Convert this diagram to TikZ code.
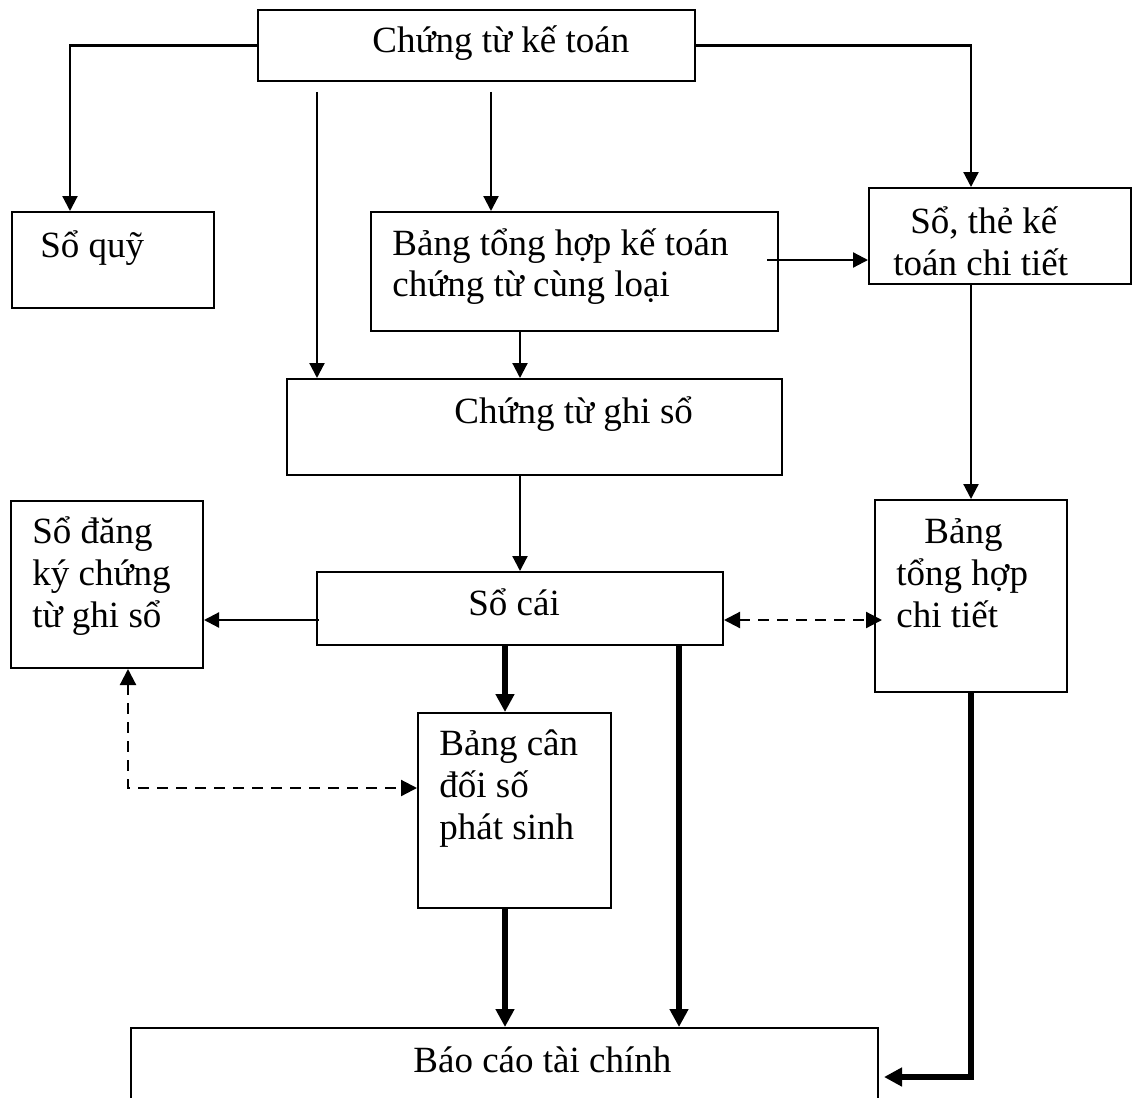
\documentclass[tikz,border=0pt]{standalone}
\usepackage{fontspec}
\setmainfont{Liberation Serif}
\usetikzlibrary{arrows.meta,calc,fit}

% box given by its two corners (pixel-like units, y grows downward)
\newcommand\flowbox[5]{\node[box, fit={(#2,#3) (#4,#5)}] (#1) {};}

\begin{document}
\begin{tikzpicture}[x=0.5pt,y=-0.5pt,
  box/.style={draw, line width=1pt, inner sep=0pt, rectangle},
  txt/.style={anchor=base west, inner sep=0pt, font=\fontsize{18.5pt}{21pt}\selectfont},
  arr/.style={line width=1.1pt, -{Triangle[length=7.5pt,width=7.5pt]}},
  heavy/.style={line width=3pt, -{Triangle[length=9pt,width=9pt]}},
  dasharr/.style={line width=1.1pt, dash pattern=on 5.5pt off 4pt,
    {Triangle[length=8pt,width=8pt]}-{Triangle[length=8pt,width=8pt]}}
]
\useasboundingbox (0,0) rectangle (1133,1097);
\fill[white] (0,0) rectangle (1133,1097);
\clip (0,0) rectangle (1133,1097);

% boxes
\flowbox{A}{258}{10}{695}{81}
\flowbox{Q}{12}{212}{214}{308}
\flowbox{B}{371}{212}{778}{331}
\flowbox{S}{869}{188}{1131}{284}
\flowbox{G}{287}{379}{782}{475}
\flowbox{D}{11}{501}{203}{668}
\flowbox{C}{317}{572}{723}{645}
\flowbox{T}{875}{500}{1067}{692}
\flowbox{K}{418}{713}{611}{908}
\flowbox{F}{131}{1028}{878}{1126}

% texts
\node[txt] (A-t) at (372,53) {Chứng từ kế toán};
\node[txt] (Q-t) at (40,257) {Sổ quỹ};
\node[txt] (B-t1) at (392,255) {Bảng tổng hợp kế toán};
\node[txt] (B-t2) at (392,296) {chứng từ cùng loại};
\node[txt] (S-t1) at (910,233) {Sổ, thẻ kế};
\node[txt] (S-t2) at (893,275) {toán chi tiết};
\node[txt] (G-t) at (454,423) {Chứng từ ghi sổ};
\node[txt] (D-t1) at (32,543) {Sổ đăng};
\node[txt] (D-t2) at (32,585) {ký chứng};
\node[txt] (D-t3) at (32,627) {từ ghi sổ};
\node[txt] (C-t) at (468,615) {Sổ cái};
\node[txt] (T-t1) at (924,543) {Bảng};
\node[txt] (T-t2) at (896,585) {tổng hợp};
\node[txt] (T-t3) at (896,627) {chi tiết};
\node[txt] (K-t1) at (439,755) {Bảng cân};
\node[txt] (K-t2) at (439,797) {đối số};
\node[txt] (K-t3) at (439,839) {phát sinh};
\node[txt] (F-t) at (413,1072) {Báo cáo tài chính};

% thin connectors
\draw[arr] (A.west) -| ($(Q.north)+(-43,0)$);
\draw[arr] (A.east) -| ($(S.north)+(-29,0)$);
\coordinate (a-l) at (317,92);
\draw[arr] (a-l) -- (a-l |- G.north);
\coordinate (a-m) at (491,92);
\draw[arr] (a-m) -- (a-m |- B.north);
\coordinate (b-r) at (767,260);
\draw[arr] (b-r) -- (b-r -| S.west);
\draw[arr] ($(B.south west)+(150,0)$) coordinate (bg) -- (bg |- G.north);
\draw[arr] (S.south -| T.north) -- (T.north);
\draw[arr] ($(G.south west)+(234,0)$) coordinate (gc) -- (gc |- C.north);
\draw[arr] ($(C.west)+(3,11.5)$) coordinate (cd) -- (cd -| D.east);

% dashed two-way connectors
\draw[dasharr] ($(C.east)+(0,11.5)$) coordinate (ct) -- ($(ct -| T.west)+(8,0)$);
\draw[dasharr] ($(D.south west)+(118,0)$) |- ($(K.west)+(0,-22.5)$);

% heavy connectors
\draw[heavy] ($(C.south west)+(189,0)$) coordinate (ck) -- (ck |- K.north);
\draw[heavy] ($(K.south west)+(88,0)$) coordinate (kf) -- (kf |- F.north);
\draw[heavy] ($(C.south west)+(363,0)$) coordinate (cf) -- (cf |- F.north);
\draw[heavy] (T.south) |- ($(F.east)+(5,0)$);
\end{tikzpicture}
\end{document}
